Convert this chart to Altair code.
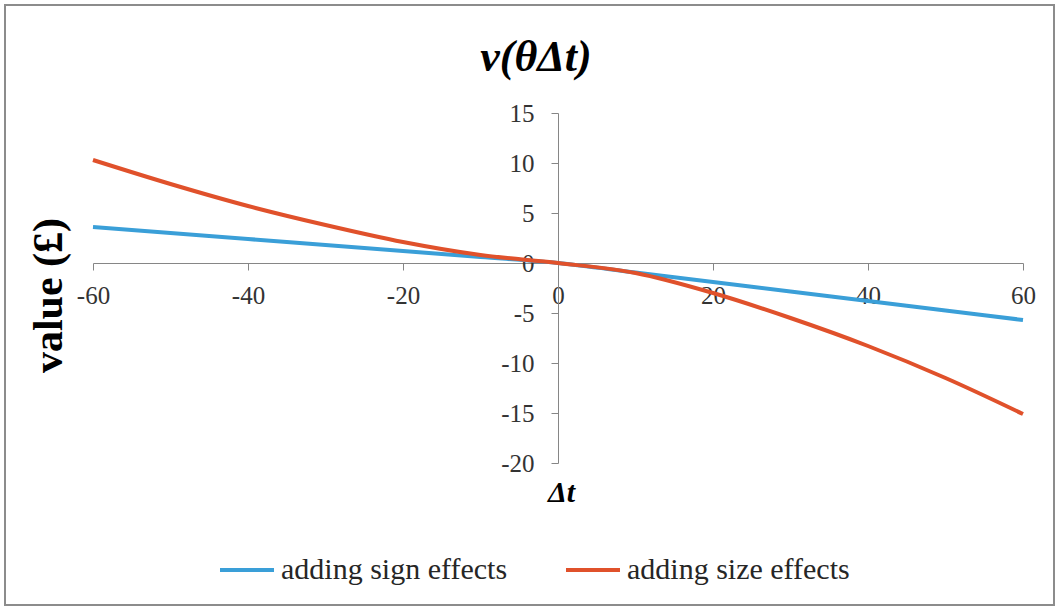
import altair as alt
import pandas as pd

# Time difference (Δt) and the two value curves
dt = [-60, -50, -40, -30, -20, -10, 0, 10, 20, 30, 40, 50, 60]
sign_effects = [3.6, 3.0, 2.4, 1.8, 1.2, 0.6, 0.0, -0.95, -1.9, -2.85, -3.8, -4.75, -5.7]
size_effects = [10.3, 7.9, 5.7, 3.8, 2.1, 0.8, 0.0, -1.0, -3.0, -5.5, -8.3, -11.5, -15.1]

series_names = ["adding sign effects", "adding size effects"]
series_colors = ["#3A9FD8", "#E0512B"]

x_ticks = [-60, -40, -20, 0, 20, 40, 60]
y_ticks = [-20, -15, -10, -5, 0, 5, 10, 15]

rows = []
for name, vals in zip(series_names, [sign_effects, size_effects]):
    for t, v in zip(dt, vals):
        rows.append({"dt": t, "value": v, "series": name})
df = pd.DataFrame(rows)

W, H = 930, 350
FONT = "Liberation Serif"
AXIS_GREY = "#868686"
PLAIN_NUMBER = "'' + datum.value"  # hyphen-minus instead of the typographic minus

lines = alt.Chart(df).mark_line(strokeWidth=4, interpolate="monotone").encode(
    x=alt.X(
        "dt:Q",
        scale=alt.Scale(domain=[-60, 60], nice=False, zero=False),
        axis=alt.Axis(
            values=x_ticks,
            offset=-200,
            grid=False,
            domainColor=AXIS_GREY,
            tickColor=AXIS_GREY,
            tickSize=7,
            labelFont=FONT,
            labelFontSize=25,
            labelColor="#333333",
            labelPadding=13,
            labelFlush=False,
            labelOverlap=False,
            labelExpr=PLAIN_NUMBER,
            title="Δt",
            titleFont=FONT,
            titleFontSize=30,
            titleFontWeight="bold",
            titleFontStyle="italic",
            titleColor="#000000",
            titleX=468,
            titleY=229,
            titleAlign="center",
            titleBaseline="middle",
        ),
    ),
    y=alt.Y(
        "value:Q",
        scale=alt.Scale(domain=[-20, 15], nice=False, zero=False),
        axis=alt.Axis(
            values=y_ticks,
            offset=-465,
            grid=False,
            domainColor=AXIS_GREY,
            tickColor=AXIS_GREY,
            tickSize=7,
            labelFont=FONT,
            labelFontSize=25,
            labelColor="#333333",
            labelPadding=17,
            labelFlush=False,
            labelOverlap=False,
            labelExpr=PLAIN_NUMBER,
            title="value (£)",
            titleFont=FONT,
            titleFontSize=42,
            titleFontWeight="bold",
            titleColor="#000000",
            titleX=-510,
            titleY=182,
            titleAngle=270,
            titleAlign="center",
            titleBaseline="middle",
        ),
    ),
    color=alt.Color(
        "series:N",
        scale=alt.Scale(domain=series_names, range=series_colors),
        legend=alt.Legend(
            title=None,
            orient="none",
            legendX=125,
            legendY=428,
            direction="horizontal",
            symbolType="stroke",
            symbolSize=2916,
            symbolStrokeWidth=4,
            labelFont=FONT,
            labelFontSize=30,
            labelColor="#262626",
            labelOffset=5,
            labelLimit=0,
            columnPadding=50,
        ),
    ),
    order=alt.Order("dt:Q"),
)

# Outer frame around the whole chart
frame = alt.Chart(pd.DataFrame({"k": [0]})).mark_rect(
    filled=False, stroke="#8C8C8C", strokeWidth=2, clip=False
).encode(
    x=alt.value(-88), x2=alt.value(961), y=alt.value(-108), y2=alt.value(492)
)

chart = alt.layer(frame, lines).properties(
    width=W,
    height=H,
    autosize=alt.AutoSizeParams(type="none"),
    padding={"left": 93, "top": 113, "right": 36, "bottom": 147},
    background="white",
    title=alt.TitleParams(
        text="v(θΔt)",
        font=FONT,
        fontSize=44,
        fontWeight="bold",
        fontStyle="italic",
        color="#000000",
        anchor="middle",
        baseline="alphabetic",
        offset=0,
        dy=111,
        dx=-22,
    ),
).configure_view(stroke=None)

chart.save("out.html", embed_options={"renderer": "svg", "actions": False})
